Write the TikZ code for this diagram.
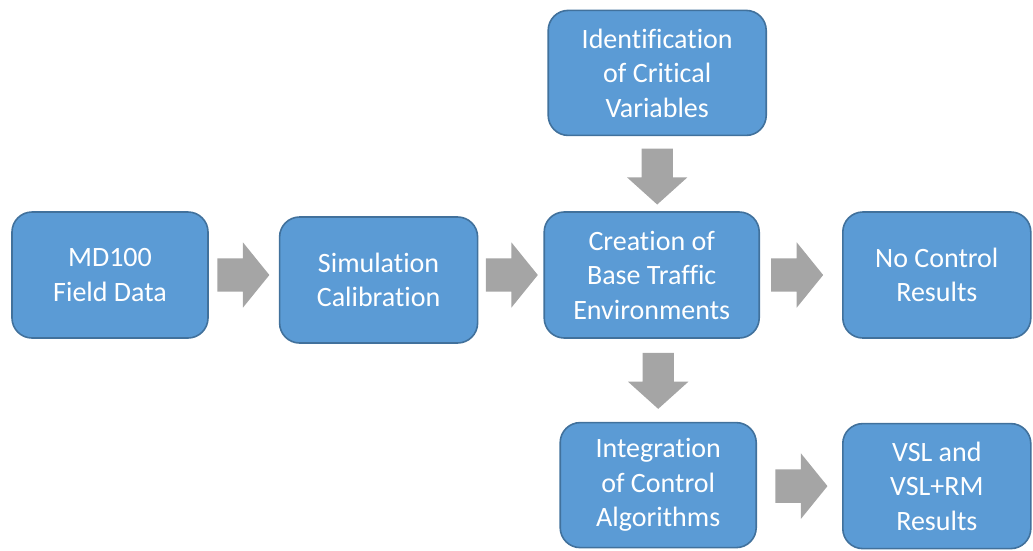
\documentclass[tikz,border=0pt]{standalone}
\usepackage{fontspec}
\setmainfont[Ligatures={NoCommon,NoContextual}]{Carlito}
\usetikzlibrary{shapes.arrows, positioning}
\definecolor{boxblue}{HTML}{5B9BD5}
\definecolor{boxline}{HTML}{41719C}
\definecolor{arrgray}{HTML}{A5A5A5}

\begin{document}
\begin{tikzpicture}[x=1pt, y=-1pt,
          every node/.style={align=center},
          box/.style={draw=boxline, line width=1.6pt, fill=boxblue, text=white,
                      rounded corners=20pt, minimum height=126pt,
                      font=\fontsize{28}{34.5}\selectfont},
          fat/.style={single arrow, fill=arrgray, inner sep=0pt},
          rarrow/.style={fat, inner ysep=16.5pt, minimum height=52pt, xshift=-6.5pt,
                      single arrow head extend=16pt, single arrow tip angle=102},
          darrow/.style={fat, yshift=6.5pt, rotate=-90, inner ysep=15.5pt, minimum height=56pt,
                      single arrow head extend=14.5pt, single arrow tip angle=96}]
        \useasboundingbox (0,0) rectangle (1033,550);
        \node[box, minimum width=196pt] (md) at (110,275) {MD100\\Field Data};
        \node[box, minimum width=198pt, right=70pt of md, yshift=-5pt] (sim) {Simulation\\Calibration};
        \node[box, minimum width=215pt, right=65pt of sim, yshift=5pt] (cre) {Creation of\\Base Traffic\\Environments};
        \node[box, minimum width=188pt, right=82pt of cre] (noc) {No Control\\Results};
        \node[box, minimum width=218pt, minimum height=125pt, above=75pt of cre, xshift=5.5pt] (ident) {Identification\\of Critical\\Variables};
        \node[box, minimum width=196pt, minimum height=125pt, below=83pt of cre, xshift=6.5pt] (integ) {Integration\\of Control\\Algorithms};
        \node[box, minimum width=188pt, minimum height=125pt, below=84pt of noc] (vsl) {VSL and\\VSL+RM\\Results};
        \path (md.east) -- (md.east -| sim.west) node[rarrow, pos=.49] (a1) {};
        \path (cre.west -| sim.east) -- (cre.west) node[rarrow, pos=.51] (a2) {};
        \path (cre.east) -- (noc.west) node[rarrow, pos=.45] (a3) {};
        \path (vsl.west -| integ.east) -- (vsl.west) node[rarrow, pos=.52] (a4) {};
        \path (ident.south) -- (ident.south |- cre.north) node[darrow, pos=.53] (d1) {};
        \path (integ.north |- cre.south) -- (integ.north) node[darrow, pos=.5] (d2) {};
      \end{tikzpicture}
\end{document}
